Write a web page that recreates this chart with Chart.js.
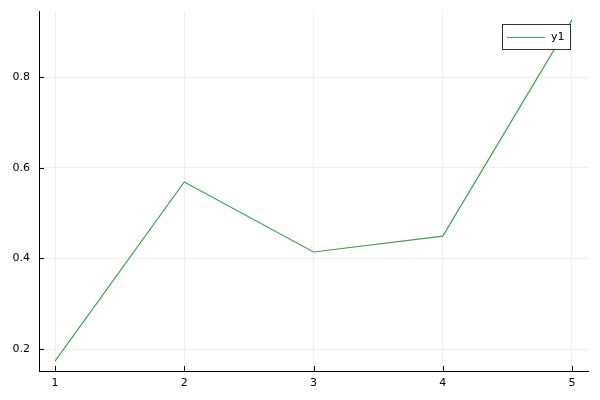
<!DOCTYPE html>
<html>
<head>
<meta charset="utf-8">
<script src="https://cdn.jsdelivr.net/npm/chart.js@4/dist/chart.umd.min.js"></script>
<style>
  html, body { margin: 0; padding: 0; background: #fff; }
  #wrap { width: 600px; height: 400px; }
</style>
</head>
<body>
<div id="wrap"><canvas id="plot" width="600" height="400"></canvas></div>
<script>
const xs = [1, 2, 3, 4, 5];
const y1 = [0.1735, 0.5684, 0.414, 0.449, 0.926];
const xTicks = [1, 2, 3, 4, 5];
const yTicks = [0.2, 0.4, 0.6, 0.8];

let lineColor = "#3ea44e";
let font = { family: "DejaVu Sans", size: 11 };

// short inward tick marks + legend box, like Plots.jl/GR
const frame = {
    id: "frame",
    afterDraw(chart) {
        const ctx = chart.ctx;
        const a = chart.chartArea;
        const sx = chart.scales.x, sy = chart.scales.y;
        ctx.save();
        ctx.strokeStyle = "#000";
        ctx.lineWidth = 1;
        ctx.beginPath();
        xTicks.forEach(v => {
            let px = Math.round(sx.getPixelForValue(v)) + 0.5;
            ctx.moveTo(px, a.bottom);
            ctx.lineTo(px, a.bottom - 5);
        });
        yTicks.forEach(v => {
            let py = Math.round(sy.getPixelForValue(v)) + 0.5;
            ctx.moveTo(a.left, py);
            ctx.lineTo(a.left + 5, py);
        });
        ctx.stroke();

        // legend
        ctx.fillStyle = "#fff";
        ctx.fillRect(502, 24, 68, 25);
        ctx.strokeStyle = "#333";
        ctx.strokeRect(502.5, 24.5, 68, 25);
        ctx.strokeStyle = lineColor;
        ctx.lineWidth = 1.2;
        ctx.beginPath();
        ctx.moveTo(507, 37.5);
        ctx.lineTo(545, 37.5);
        ctx.stroke();
        ctx.fillStyle = "#000";
        ctx.font = "11px 'DejaVu Sans'";
        ctx.textBaseline = "middle";
        ctx.fillText("y1", 551, 37.5);
        ctx.restore();
    }
};

new Chart(document.getElementById("plot"), {
    type: "line",
    data: {
        datasets: [
            {
                label: "y1",
                data: xs.map((x, i) => ({ x: x, y: y1[i] })),
                borderColor: lineColor,
                backgroundColor: lineColor,
                borderWidth: 1.2,
                pointRadius: 0,
                tension: 0
            }
        ]
    },
    options: {
        responsive: false,
        animation: false,
        layout: { padding: { left: 0, right: 12, top: 11, bottom: 0 } },
        plugins: {
            legend: { display: false },
            tooltip: { enabled: false }
        },
        scales: {
            x: {
                type: "linear",
                min: 0.876,
                max: 5.124,
                afterBuildTicks: s => { s.ticks = xTicks.map(v => ({ value: v })); },
                afterFit: s => { s.height = 29; },
                grid: { color: "rgba(0,0,0,0.06)", lineWidth: 1, tickLength: 0 },
                border: { color: "#000", width: 1 },
                ticks: { color: "#000", font: font, padding: 6, maxRotation: 0 }
            },
            y: {
                type: "linear",
                min: 0.1515,
                max: 0.9456,
                afterBuildTicks: s => { s.ticks = yTicks.map(v => ({ value: v })); },
                afterFit: s => { s.width = 39; s.paddingTop = 0; s.paddingBottom = 0; },
                grid: { color: "rgba(0,0,0,0.06)", lineWidth: 1, tickLength: 0 },
                border: { color: "#000", width: 1 },
                ticks: { color: "#000", font: font, padding: 9, callback: v => v.toFixed(1) }
            }
        }
    },
    plugins: [frame]
});
</script>
</body>
</html>
